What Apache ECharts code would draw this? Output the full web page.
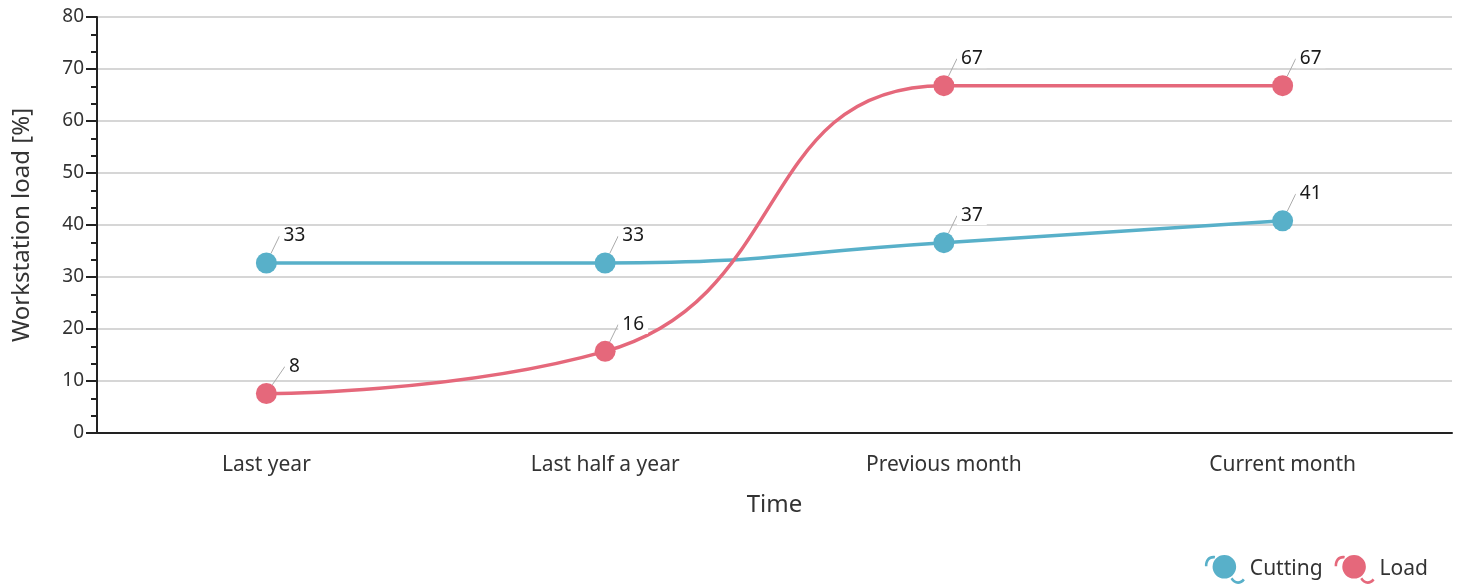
<!DOCTYPE html>
<html><head><meta charset="utf-8">
<script src="https://cdn.jsdelivr.net/npm/echarts@6/dist/echarts.min.js"></script>
<style>html,body{margin:0;padding:0;background:#fff}#c{width:1461px;height:585px}</style>
</head><body><div id="c"></div>
<script>
const categories = ['Last year', 'Last half a year', 'Previous month', 'Current month'];
const cutting = [32.7, 32.7, 36.6, 40.8];
const load = [7.6, 15.7, 66.8, 66.8];
const yTicks = [0, 10, 20, 30, 40, 50, 60, 70, 80];

const FONT = '"Noto Sans", "DejaVu Sans", sans-serif';
const legendIcon = 'path://M20,3 A11.5,11.5 0 1 1 19.99,3 Z M1,14 C1,7 5,3 11,4 L10.5,6.5 C6,6 3.5,9 3.5,14 Z M28,25 C30,29 35,30 38,26 L40,27.5 C36,33 29,32 26,26.5 Z';

function mkSeries(name, data, color) {
  return {
    name, type: 'line', data, smooth: 0.5,
    symbol: 'circle', symbolSize: 21,
    itemStyle: { color },
    lineStyle: { color, width: 3.5 },
    label: {
      show: true, position: 'inside',
      formatter: p => Math.round(p.value),
      color: '#1a1a1a', fontSize: 19, fontFamily: FONT,
      backgroundColor: '#fff', padding: [0, 4]
    },
    labelLayout: { dx: 28, dy: -27 },
    labelLine: { show: true, length2: 0, lineStyle: { color: '#aaa', width: 1 } },
    emphasis: { disabled: true }
  };
}

const chart = echarts.init(document.getElementById('c'), null, { renderer: 'canvas' });
chart.setOption({
  animation: false,
  textStyle: { fontFamily: FONT },
  grid: { left: 97, right: 9, top: 17, bottom: 152 },
  legend: {
    right: 28, top: 550, itemWidth: 40, itemHeight: 30, itemGap: 12,
    icon: legendIcon,
    textStyle: { fontSize: 21, color: '#333', fontFamily: FONT },
    data: ['Cutting', 'Load']
  },
  xAxis: {
    type: 'category', data: categories, boundaryGap: true,
    name: 'Time', nameLocation: 'middle', nameGap: 60,
    nameTextStyle: { fontSize: 24, color: '#333', fontFamily: FONT },
    axisLine: { lineStyle: { color: '#222', width: 2 } },
    axisTick: { alignWithLabel: true, length: 7, lineStyle: { color: '#222', width: 2 } },
    axisLabel: { fontSize: 21, color: '#333', margin: 22, fontFamily: FONT },
    splitLine: { show: false }
  },
  yAxis: {
    type: 'value', min: yTicks[0], max: yTicks[yTicks.length - 1], interval: 10,
    name: 'Workstation load [%]', nameLocation: 'middle', nameGap: 63,
    nameTextStyle: { fontSize: 24, color: '#333', fontFamily: FONT },
    axisLine: { show: true, lineStyle: { color: '#222', width: 2 } },
    axisTick: { show: true, length: 11, lineStyle: { color: '#222', width: 2 } },
    minorTick: { show: true, splitNumber: 3, length: 6, lineStyle: { color: '#222', width: 2 } },
    axisLabel: { fontSize: 19, color: '#333', margin: 13, fontFamily: FONT },
    splitLine: { show: true, lineStyle: { color: '#c8c8c8', width: 1.5 } }
  },
  series: [
    mkSeries('Cutting', cutting, '#58b0c9'),
    mkSeries('Load', load, '#e5687b')
  ]
});
</script>
</body></html>
